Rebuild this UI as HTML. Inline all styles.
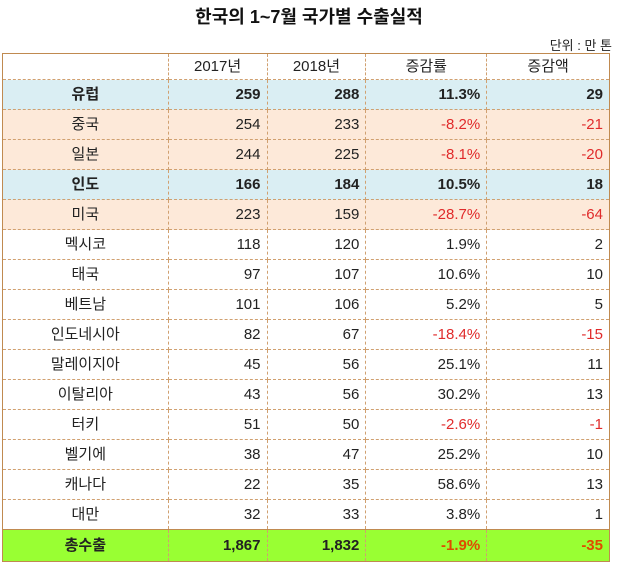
<!DOCTYPE html><html><head><meta charset="utf-8"><style>
body{margin:0;width:618px;height:567px;background:#fff;font-family:"Liberation Sans","Noto Sans CJK KR",sans-serif;overflow:hidden;position:relative}
#title{position:absolute;top:3px;left:0;width:618px;text-align:center;font-weight:bold;font-size:18px;color:#111}
#unit{position:absolute;top:35px;right:6px;font-size:13px;color:#222}
table{position:absolute;top:53px;left:2px;width:608px;border-collapse:collapse;border:1.5px solid #c08a50;font-size:15px;color:#222}
td{border:1px dashed #d0a070;padding:0 6px 0 0;text-align:right;height:29px;line-height:29px}
td:first-child{text-align:center;padding:0}
tr.h td{text-align:center;height:25px;line-height:25px;padding:0}
tr.b td{background:#daeef3;font-weight:bold}
tr.o td{background:#fde9d9}
tr.t td{background:#99ff33;font-weight:bold;height:31px;border-top:1.5px solid #c08a50}
.r{color:#e02b2b}tr.t .r{color:#e04a00}
</style></head><body>
<div id="title">한국의 1~7월 국가별 수출실적</div>
<div id="unit">단위 : 만 톤</div>
<table>
<colgroup><col style="width:166px"><col style="width:99px"><col style="width:99px"><col style="width:121px"><col style="width:123px"></colgroup>
<tbody id="tb"><tr class="h"><td></td><td>2017년</td><td>2018년</td><td>증감률</td><td>증감액</td></tr></tbody></table>
<script>
const countries=["유럽","중국","일본","인도","미국","멕시코","태국","베트남","인도네시아","말레이지아","이탈리아","터키","벨기에","캐나다","대만","총수출"];
const v2017=["259","254","244","166","223","118","97","101","82","45","43","51","38","22","32","1,867"];
const v2018=["288","233","225","184","159","120","107","106","67","56","56","50","47","35","33","1,832"];
const rate=["11.3%","-8.2%","-8.1%","10.5%","-28.7%","1.9%","10.6%","5.2%","-18.4%","25.1%","30.2%","-2.6%","25.2%","58.6%","3.8%","-1.9%"];
const diff=["29","-21","-20","18","-64","2","10","5","-15","11","13","-1","10","13","1","-35"];
const cls=["b","o","o","b","o","","","","","","","","","","","t"];
const tb=document.getElementById('tb');
countries.forEach((c,i)=>{
const tr=document.createElement('tr');
tr.className=cls[i];


[c,v2017[i],v2018[i],rate[i],diff[i]].forEach((t,j)=>{
const td=document.createElement('td');
td.textContent=t;
if(j>=3&&t.startsWith('-'))td.className='r';


tr.appendChild(td);});
tb.appendChild(tr);});
</script></body></html>
